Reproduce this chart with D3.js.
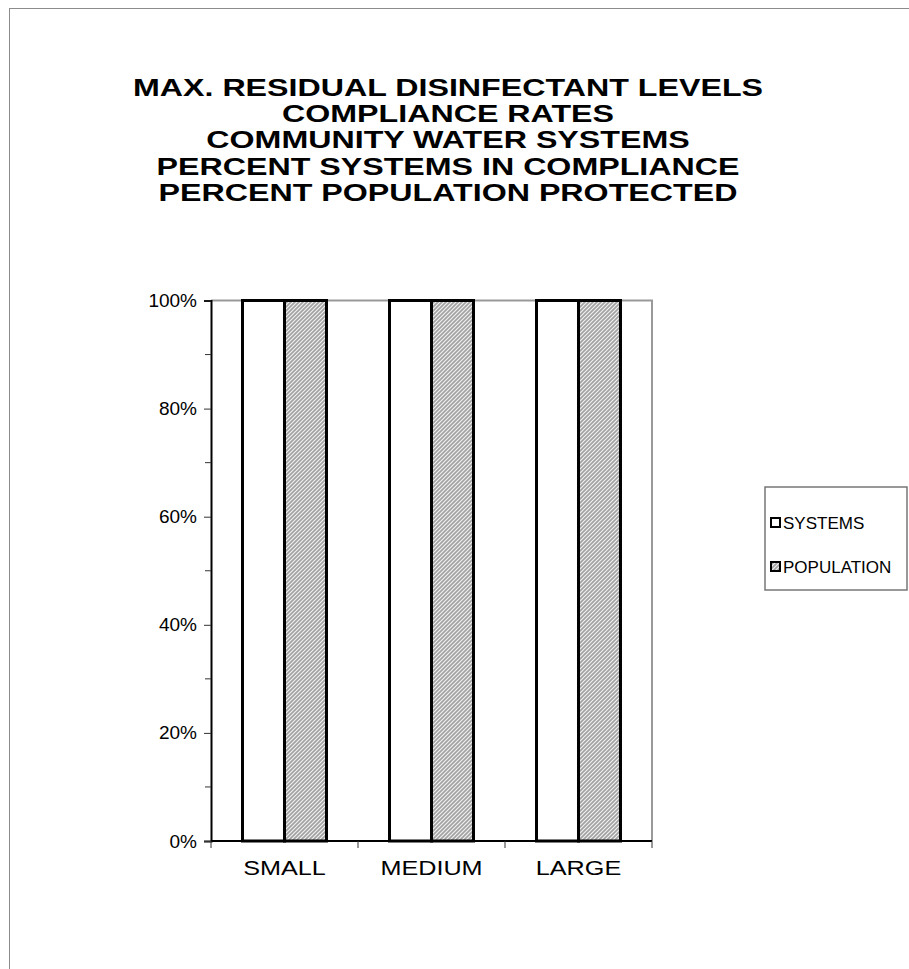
<!DOCTYPE html>
<html>
<head>
<meta charset="utf-8">
<script src="https://cdn.jsdelivr.net/npm/d3@7"></script>
<style>
  body { margin: 0; background: #fff; }
  svg { display: block; font-family: Arial, "Liberation Sans", sans-serif; }
</style>
</head>
<body>
<svg id="chart" width="909" height="969"></svg>
<script>
var titleLines = [
    "MAX. RESIDUAL DISINFECTANT LEVELS",
    "COMPLIANCE RATES",
    "COMMUNITY WATER SYSTEMS",
    "PERCENT SYSTEMS IN COMPLIANCE",
    "PERCENT POPULATION PROTECTED"
];
var categories = ["SMALL", "MEDIUM", "LARGE"];
var seriesNames = ["SYSTEMS", "POPULATION"];
var systemsValues = [1.0, 1.0, 1.0];
var populationValues = [1.0, 1.0, 1.0];
var yTicks = [0, 0.2, 0.4, 0.6, 0.8, 1.0];

var svg = d3.select('#chart');

// hatch pattern for population bars
var defs = svg.append('defs');
var pat = defs.append('pattern')
    .attr('id', 'hatch')
    .attr('patternUnits', 'userSpaceOnUse')
    .attr('width', 4)
    .attr('height', 4);
pat.append('rect').attr('width', 4).attr('height', 4).style('fill', '#a2a2a2');
pat.append('path')
    .attr('d', 'M-1,1 l2,-2 M0,4 l4,-4 M3,5 l2,-2')
    .style('stroke', '#f0f0f0')
    .style('stroke-width', 1.2);

// outer frame
svg.append('rect')
    .attr('x', 9.5).attr('y', 8.5)
    .attr('width', 920).attr('height', 980)
    .style('fill', 'none')
    .style('stroke', '#8c8c8c')
    .style('stroke-width', 1);

// title
var title = svg.append('g');
titleLines.forEach(function (t, i) {
    title.append('text')
        .attr('transform', 'translate(448,' + (96 + i * 26.2) + ') scale(1.4,1)')
        .attr('text-anchor', 'middle')
        .style('font-size', '23px')
        .style('font-weight', 'bold')
        .text(t);
});

var plot = { left: 211, top: 300.5, right: 652, bottom: 841 };

var x = d3.scaleBand()
    .domain(categories)
    .range([plot.left, plot.right]);

var xInner = d3.scaleBand()
    .domain(seriesNames)
    .range([0, x.bandwidth()])
    .paddingInner(0)
    .paddingOuter(0.75);

var y = d3.scaleLinear()
    .domain([0, 1])
    .range([plot.bottom, plot.top]);

// plot border (gray top and right)
svg.append('path')
    .attr('d', 'M' + plot.left + ',' + plot.top + 'H' + plot.right + 'V' + plot.bottom)
    .style('fill', 'none')
    .style('stroke', '#999')
    .style('stroke-width', 2);

// bars
var rows = categories.map(function (c, i) {
    return { cat: c, values: [systemsValues[i], populationValues[i]] };
});

var groups = svg.append('g').selectAll('g')
    .data(rows)
    .enter()
    .append('g')
    .attr('transform', function (d) { return 'translate(' + x(d.cat) + ',0)'; });

groups.selectAll('rect')
    .data(function (d) {
        return d.values.map(function (v, j) { return { name: seriesNames[j], value: v }; });
    })
    .enter()
    .append('rect')
    .attr('x', function (d) { return xInner(d.name); })
    .attr('y', function (d) { return y(d.value); })
    .attr('width', xInner.bandwidth())
    .attr('height', function (d) { return y(0) - y(d.value); })
    .style('fill', function (d) { return d.name === 'SYSTEMS' ? '#fff' : 'url(#hatch)'; })
    .style('stroke', '#000')
    .style('stroke-width', 3);

// y axis
var yAxis = d3.axisLeft(y)
    .tickValues(yTicks)
    .tickFormat(d3.format('.0%'))
    .tickSize(7)
    .tickPadding(7);

var yg = svg.append('g')
    .attr('transform', 'translate(' + plot.left + ',0)')
    .call(yAxis);
yg.select('.domain').style('stroke', '#000').style('stroke-width', 2);
yg.selectAll('.tick line').style('stroke', '#333');
yg.selectAll('.tick text')
    .style('font-size', '19px')
    .style('fill', '#000');

// minor ticks
svg.append('g').selectAll('line')
    .data(d3.range(0.1, 1, 0.2))
    .enter()
    .append('line')
    .attr('x1', plot.left - 6).attr('x2', plot.left)
    .attr('y1', function (d) { return y(d); })
    .attr('y2', function (d) { return y(d); })
    .style('stroke', '#333');

// x axis
var xg = svg.append('g')
    .attr('transform', 'translate(0,' + plot.bottom + ')');
xg.append('line')
    .attr('x1', plot.left).attr('x2', plot.right)
    .style('stroke', '#000').style('stroke-width', 2);
var bounds = categories.map(function (c) { return x(c); }).concat([plot.right]);
xg.selectAll('.xtick')
    .data(bounds)
    .enter()
    .append('line')
    .attr('class', 'xtick')
    .attr('x1', function (d) { return d; })
    .attr('x2', function (d) { return d; })
    .attr('y1', 0).attr('y2', 7)
    .style('stroke', '#333');
xg.selectAll('.xlabel')
    .data(categories)
    .enter()
    .append('text')
    .attr('class', 'xlabel')
    .attr('transform', function (d) {
        return 'translate(' + (x(d) + x.bandwidth() / 2) + ',34) scale(1.2,1)';
    })
    .attr('text-anchor', 'middle')
    .style('font-size', '21px')
    .text(function (d) { return d; });

// legend
var legend = svg.append('g').attr('transform', 'translate(765,487)');
legend.append('rect')
    .attr('width', 142).attr('height', 103)
    .style('fill', '#fff')
    .style('stroke', '#777')
    .style('stroke-width', 1.5);
var items = legend.selectAll('.item')
    .data(seriesNames)
    .enter()
    .append('g')
    .attr('class', 'item')
    .attr('transform', function (d, i) { return 'translate(6,' + (36 + i * 44) + ')'; });
items.append('rect')
    .attr('x', 0).attr('y', -5)
    .attr('width', 9).attr('height', 9)
    .style('fill', function (d) { return d === 'SYSTEMS' ? '#fff' : 'url(#hatch)'; })
    .style('stroke', '#000')
    .style('stroke-width', 2);
items.append('text')
    .attr('x', 12).attr('y', 6)
    .style('font-size', '17px')
    .text(function (d) { return d; });
</script>
</body>
</html>
